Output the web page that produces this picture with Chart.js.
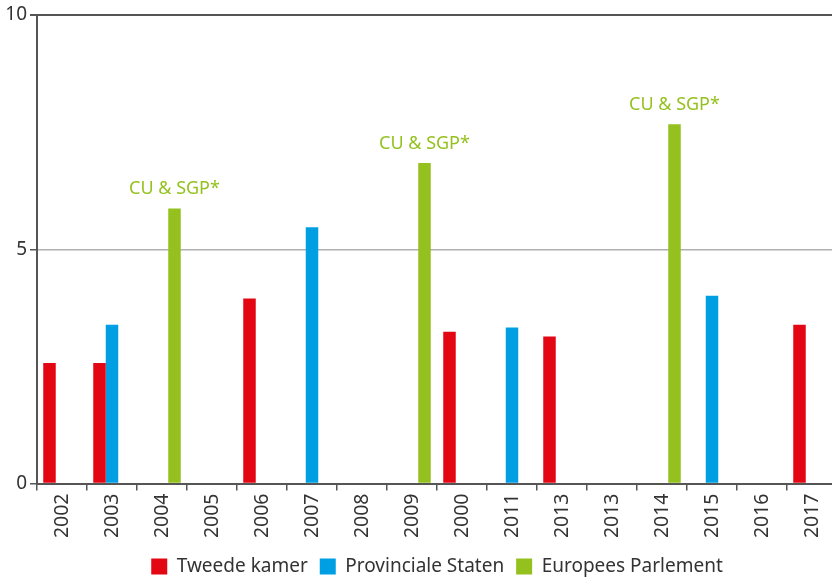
<!DOCTYPE html>
<html>
<head>
<meta charset="utf-8">
<script src="https://cdn.jsdelivr.net/npm/chart.js@4"></script>
<style>
  html, body { margin:0; padding:0; background:#fff; overflow:hidden; }
  #wrap { position:absolute; left:0; top:0; width:840px; height:586px; }
</style>
</head>
<body>
<div id="wrap"><canvas id="chart"></canvas></div>
<script>
// ========== Data ==========
const years = ['2002','2003','2004','2005','2006','2007','2008','2009','2000','2011','2013','2013','2014','2015','2016','2017'];
const tweedeKamer        = [2.57, 2.57, null, null, 3.95, null, null, null, 3.24, null, 3.14, null, null, null, null, 3.39];
const provincialeStaten  = [null, 3.39, null, null, null, 5.47, null, null, null, 3.33, null, null, null, 4.01, null, null];
const europeesParlement  = [null, null, 5.87, null, null, null, null, 6.84, null, null, null, null, 7.67, null, null, null];
const yTicks = [0, 5, 10];
const noteText = 'CU & SGP*';

const FONT = '"Noto Sans", "Open Sans", sans-serif';
const TEXT = '#333333';
const AXIS = '#555555';

// labels above the green bars
const notePlugin = {
  id:'notes',
  afterLayout(chart){
    // center the legend under the plot area instead of the whole canvas
    const lg = chart.legend, ca = chart.chartArea;
    if (!lg) return;
    const dx = (ca.left + ca.right) / 2 - (lg.left + lg.right) / 2;
    lg.left += dx; lg.right += dx;
  },
  afterDatasetsDraw(chart){
    const ctx = chart.ctx;
    const meta = chart.getDatasetMeta(2);
    ctx.save();
    ctx.font = '18px ' + FONT;
    ctx.fillStyle = '#95c11f';
    ctx.textAlign = 'center';
    ctx.textBaseline = 'alphabetic';
    meta.data.forEach((el, i) => {
      if (europeesParlement[i] == null) return;
      ctx.fillText(noteText, el.x, el.y - 14);
    });
    ctx.restore();
  }
};

const chart = new Chart(document.getElementById('chart'), {
  type:'bar',
  data:{
    labels: years,
    datasets:[
      { label:'Tweede kamer', data:tweedeKamer, backgroundColor:'#e30613' },
      { label:'Provinciale Staten', data:provincialeStaten, backgroundColor:'#009fe3' },
      { label:'Europees Parlement', data:europeesParlement, backgroundColor:'#95c11f' }
    ]
  },
  options:{
    responsive:true, maintainAspectRatio:false, animation:false,
    categoryPercentage:0.75, barPercentage:1.0,
    layout:{ padding:{ top:15, right:3, bottom:0, left:0 } },
    plugins:{
      legend:{
        position:'bottom',
        labels:{ boxWidth:16, boxHeight:16, padding:12, color:TEXT, font:{ family:FONT, size:19 } }
      },
      tooltip:{ enabled:false }
    },
    scales:{
      x:{
        grid:{ offset:true, drawOnChartArea:false, drawTicks:true, tickLength:7, color:AXIS, lineWidth:1.5 },
        border:{ color:AXIS, width:2 },
        ticks:{ color:TEXT, font:{ family:FONT, size:19.5 }, minRotation:90, maxRotation:90, padding:3, autoSkip:false },
        afterFit(scale){ scale.height = 61.5; }
      },
      y:{
        min:0, max:10,
        afterBuildTicks(scale){ scale.ticks = yTicks.map(v => ({ value:v })); },
        grid:{
          color: c => (c.tick && c.tick.value === 10) ? AXIS : '#b0b0b0',
          lineWidth: c => (c.tick && c.tick.value === 10) ? 2 : 1.5,
          tickColor: AXIS, tickLength:7, drawTicks:true
        },
        border:{ color:AXIS, width:2 },
        ticks:{ color:TEXT, font:{ family:FONT, size:19 }, padding:3 },
        afterFit(scale){ scale.width = 37; }
      }
    }
  },
  plugins:[notePlugin]
});
</script>
</body>
</html>
